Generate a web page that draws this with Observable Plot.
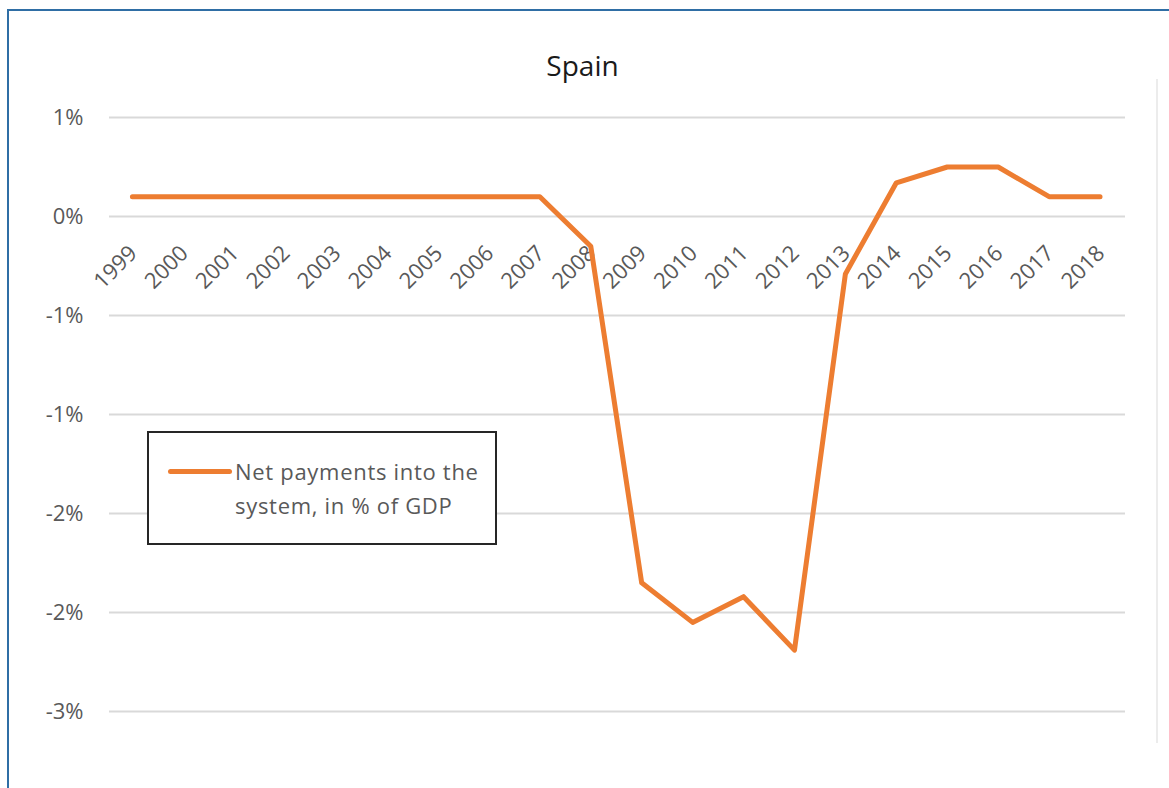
<!DOCTYPE html>
<html>
<head>
<meta charset="utf-8">
<script src="https://cdn.jsdelivr.net/npm/d3@7"></script>
<script src="https://cdn.jsdelivr.net/npm/@observablehq/plot@0.6"></script>
<style>
  html, body { margin: 0; padding: 0; background: #fff; }
  #wrap { position: relative; width: 1169px; height: 788px; overflow: hidden; font-family: "Open Sans", sans-serif; }
  #frame { position: absolute; left: 7px; top: 9px; width: 1200px; height: 800px; border-left: 2px solid #2f6ea5; border-top: 2px solid #2f6ea5; box-sizing: border-box; }
  #sep { position: absolute; left: 1156px; top: 79px; width: 2px; height: 664px; background: #ececec; }
  #chart { position: absolute; left: 0; top: 0; }
  #legend { position: absolute; left: 147px; top: 431px; width: 350px; height: 114px; box-sizing: border-box; border: 2px solid #262626; background: #fff; }
  #legend .swatch { position: absolute; left: 19px; top: 36px; width: 64px; height: 5px; background: #ED7D31; border-radius: 2.5px; }
  #legend .lbl { position: absolute; left: 86px; top: 21px; font-size: 22px; letter-spacing: 0.7px; line-height: 34px; color: #595959; white-space: nowrap; }
</style>
</head>
<body>
<div id="wrap">
  <div id="frame"></div>
  <div id="sep"></div>
  <div id="chart"></div>
  <div id="legend"><div class="swatch"></div><div class="lbl" id="legendText"></div></div>
</div>
<script>
const title = "Spain";
const seriesName = ["Net payments into the", "system, in % of GDP"];
const years = [1999, 2000, 2001, 2002, 2003, 2004, 2005, 2006, 2007, 2008, 2009, 2010, 2011, 2012, 2013, 2014, 2015, 2016, 2017, 2018];
const values = [0.1, 0.1, 0.1, 0.1, 0.1, 0.1, 0.1, 0.1, 0.1, -0.15, -1.85, -2.05, -1.92, -2.19, -0.29, 0.17, 0.25, 0.25, 0.1, 0.1];
const yTickValues = [0.5, 0, -0.5, -1, -1.5, -2, -2.5];
const yTickLabels = ["1%", "0%", "-1%", "-1%", "-2%", "-2%", "-3%"];

const data = years.map((y, i) => ({year: y, value: values[i]}));

const chart = Plot.plot({
  width: 1169,
  height: 788,
  marginLeft: 109,
  marginRight: 44,
  marginTop: 117,
  marginBottom: 77,
  style: {fontFamily: "'Open Sans', sans-serif", background: "transparent"},
  x: {domain: [1998.55, 2018.5], axis: null},
  y: {domain: [-2.5, 0.5], axis: null},
  marks: [
    Plot.ruleY(yTickValues, {stroke: "#d9d9d9", strokeWidth: 2}),
    Plot.axisY({
      ticks: yTickValues,
      tickFormat: d => yTickLabels[yTickValues.indexOf(d)],
      tickSize: 0,
      tickPadding: 26,
      fontSize: 22,
      fill: "#595959",
      label: null
    }),
    Plot.text(years, {
      x: d => d,
      y: () => 0,
      text: d => String(d),
      rotate: -45,
      textAnchor: "end",
      lineAnchor: "middle",
      dx: 1,
      dy: 33,
      fontSize: 22,
      fill: "#595959"
    }),
    Plot.line(data, {
      x: "year",
      y: "value",
      stroke: "#ED7D31",
      strokeWidth: 5,
      strokeLinejoin: "round",
      strokeLinecap: "round"
    }),
    Plot.text([title], {
      frameAnchor: "top",
      text: d => d,
      lineAnchor: "bottom",
      dx: -35,
      dy: -42,
      fontSize: 28,
      fill: "#1a1a1a"
    })
  ]
});
document.getElementById("chart").appendChild(chart);
document.getElementById("legendText").innerHTML = seriesName.join("<br>");
</script>
</body>
</html>
